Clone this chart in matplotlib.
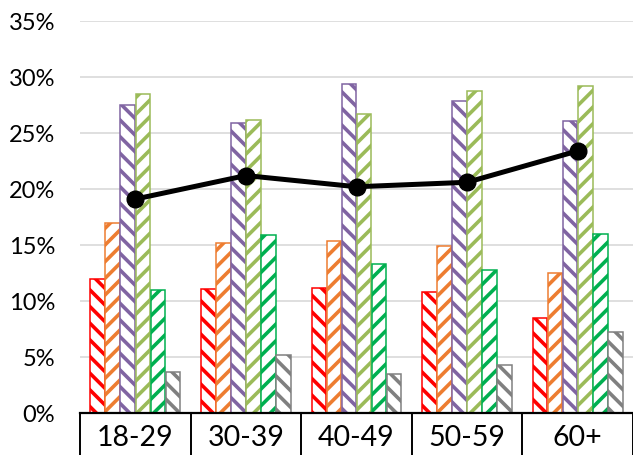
import matplotlib
matplotlib.use("Agg")
import matplotlib.pyplot as plt
import numpy as np
from matplotlib.ticker import FuncFormatter

categories = ["18-29", "30-39", "40-49", "50-59", "60+"]
s_red = [12.0, 11.1, 11.2, 10.8, 8.5]
s_orange = [17.0, 15.2, 15.4, 14.9, 12.5]
s_purple = [27.5, 25.9, 29.4, 27.9, 26.1]
s_lightgreen = [28.5, 26.2, 26.7, 28.75, 29.2]
s_green = [11.0, 15.9, 13.3, 12.8, 16.0]
s_gray = [3.7, 5.2, 3.5, 4.3, 7.2]
line_values = [19.1, 21.2, 20.2, 20.6, 23.4]

series = [s_red, s_orange, s_purple, s_lightgreen, s_green, s_gray]
colors = ["#FF0000", "#ED7D31", "#8064A2", "#9BBB59", "#00B050", "#808080"]
hatches = ["\\\\", "//", "\\\\", "//", "//", "\\\\"]

plt.rcParams['font.family'] = ['Lato', 'DejaVu Sans']
plt.rcParams['hatch.linewidth'] = 2.6

fig = plt.figure(figsize=(6.33, 4.55), dpi=100)
ax = fig.add_axes([80/633, 42/455, 553/633, 392/455])

n = len(categories)
x = np.arange(n)
bw = 0.136
offsets = (np.arange(6) - 2.5) * bw
for s, c, h, off in zip(series, colors, hatches, offsets):
    ax.bar(x + off, np.array(s) / 100, width=bw * 0.97, facecolor="white",
           edgecolor=c, hatch=h, linewidth=1.1, zorder=3)

ax.plot(x, np.array(line_values) / 100, color="black", linewidth=3.6,
        marker="o", markersize=12, zorder=5)

ax.set_xlim(-0.5, n - 0.5)
ax.set_ylim(0, 0.35)
ax.set_yticks(np.arange(0, 0.351, 0.05))
ax.yaxis.set_major_formatter(FuncFormatter(lambda v, p: f"{v*100:.0f}%"))
ax.grid(axis="y", color="#D9D9D9", linewidth=1.2, zorder=0)
ax.set_axisbelow(True)

for sp in ["left", "right", "top"]:
    ax.spines[sp].set_visible(False)
ax.spines["bottom"].set_color("black")
ax.spines["bottom"].set_linewidth(1.6)
ax.spines["bottom"].set_zorder(6)

ax.tick_params(axis="y", length=0, pad=18, labelsize=17, labelcolor="black")
ax.set_xticks(x)
ax.set_xticklabels(categories)
ax.tick_params(axis="x", which="major", length=0, pad=9, labelsize=20.5, labelcolor="black")
ax.set_xticks(np.arange(n + 1) - 0.5, minor=True)
ax.tick_params(axis="x", which="minor", length=31, width=1.4, color="black", direction="out")

fig.savefig("out.png", dpi=100)
